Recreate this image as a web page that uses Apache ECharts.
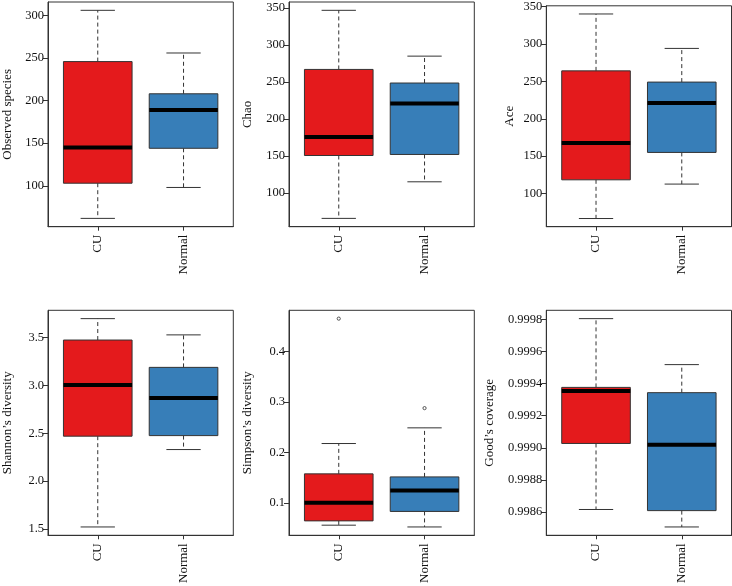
<!DOCTYPE html>
<html>
<head>
<meta charset="utf-8">
<script src="https://cdn.jsdelivr.net/npm/echarts@6/dist/echarts.min.js"></script>
<style>
  html, body { margin: 0; padding: 0; background: #fff; }
  #chart { width: 732px; height: 586px; }
</style>
</head>
<body>
<div id="chart"></div>
<script>
// ---- Data ----
// Each stat row: [min (lower whisker), Q1, median, Q3, max (upper whisker)]
const groups = ['CU', 'Normal'];

const observedStats = [[61.7, 103, 145, 245.8, 306], [98, 144, 189, 208, 255.9]];
const observedTicks = [100, 150, 200, 250, 300];

const chaoStats = [[65.4, 150.5, 175.7, 267, 347], [114.9, 151.9, 221, 248.6, 285]];
const chaoTicks = [100, 150, 200, 250, 300, 350];

const aceStats = [[66.7, 118.4, 167.5, 264, 340], [112.7, 155, 221, 249, 294]];
const aceTicks = [100, 150, 200, 250, 300, 350];

const shannonStats = [[1.52, 2.47, 3.006, 3.476, 3.70], [2.33, 2.476, 2.87, 3.19, 3.53]];
const shannonTicks = [1.5, 2.0, 2.5, 3.0, 3.5];

const simpsonStats = [[0.0565, 0.065, 0.101, 0.158, 0.218], [0.053, 0.0837, 0.125, 0.152, 0.249]];
const simpsonOutliers = [[1, 0.465], [2, 0.288]];
const simpsonTicks = [0.1, 0.2, 0.3, 0.4];

const goodsStats = [[0.998615, 0.999027, 0.999354, 0.999377, 0.999806], [0.998506, 0.998608, 0.999019, 0.999344, 0.999519]];
const goodsTicks = [0.9986, 0.9988, 0.9990, 0.9992, 0.9994, 0.9996, 0.9998];

// ---- Panels ----
const panels = [
  { name: 'Observed species', stats: observedStats, outliers: [], ticks: observedTicks, digits: 0 },
  { name: 'Chao', stats: chaoStats, outliers: [], ticks: chaoTicks, digits: 0 },
  { name: 'Ace', stats: aceStats, outliers: [], ticks: aceTicks, digits: 0 },
  { name: 'Shannon\u2019s diversity', stats: shannonStats, outliers: [], ticks: shannonTicks, digits: 1 },
  { name: 'Simpson\u2019s diversity', stats: simpsonStats, outliers: simpsonOutliers, ticks: simpsonTicks, digits: 1 },
  { name: 'Good\u2019s coverage', stats: goodsStats, outliers: [], ticks: goodsTicks, digits: 4 }
];

// ---- Layout & style ----
const layout = [
  { left: 47.7, top: 2, width: 185.6, height: 224.7, nameGap: 34 },
  { left: 289, top: 2, width: 185.3, height: 224.7, nameGap: 35 },
  { left: 546.3, top: 2, width: 185.2, height: 224.7, nameGap: 30 },
  { left: 47.7, top: 310.3, width: 185.6, height: 225, nameGap: 34 },
  { left: 289, top: 310.3, width: 185.3, height: 225, nameGap: 35 },
  { left: 546.3, top: 310.3, width: 185.2, height: 225, nameGap: 50 }
];
const fillColors = ['#E41A1C', '#377EB8'];
const FONT = '"Liberation Serif", "DejaVu Serif", serif';
const INK = '#111';
const BOX_HALF = 0.4, CAP_HALF = 0.2;

function renderBox(params, api) {
  const x = api.value(0);
  const lo = api.value(1), q1 = api.value(2), med = api.value(3), q3 = api.value(4), hi = api.value(5);
  const c = (a, b) => api.coord([a, b]);
  const tl = c(x - BOX_HALF, q3), br = c(x + BOX_HALF, q1);
  const dash = { stroke: '#333', lineWidth: 1, lineDash: [4, 3] };
  const solid = { stroke: '#333', lineWidth: 1 };
  const line = (p1, p2, style) => ({ type: 'line', shape: { x1: p1[0], y1: p1[1], x2: p2[0], y2: p2[1] }, style: style });
  return {
    type: 'group',
    children: [
      line(c(x, q3), c(x, hi), dash),
      line(c(x, q1), c(x, lo), dash),
      line(c(x - CAP_HALF, hi), c(x + CAP_HALF, hi), solid),
      line(c(x - CAP_HALF, lo), c(x + CAP_HALF, lo), solid),
      { type: 'rect', shape: { x: tl[0], y: tl[1], width: br[0] - tl[0], height: br[1] - tl[1] },
        style: { fill: fillColors[params.dataIndex], stroke: '#333', lineWidth: 1 } },
      line(c(x - BOX_HALF, med), c(x + BOX_HALF, med), { stroke: '#000', lineWidth: 4 })
    ]
  };
}

function renderOutlier(params, api) {
  const p = api.coord([api.value(0), api.value(1)]);
  return { type: 'circle', shape: { cx: p[0], cy: p[1], r: 1.6 },
    style: { fill: '#fff', stroke: '#444', lineWidth: 0.9 } };
}

const grid = [], xAxis = [], yAxis = [], series = [];
panels.forEach((p, i) => {
  const L = layout[i];
  let all = [];
  p.stats.forEach(s => { all = all.concat(s); });
  p.outliers.forEach(o => all.push(o[1]));
  const dmin = Math.min(...all), dmax = Math.max(...all);
  const pad = (dmax - dmin) * 0.04;

  grid.push({ left: L.left, top: L.top, width: L.width, height: L.height,
    show: true, borderColor: '#333', borderWidth: 1, backgroundColor: 'transparent' });

  xAxis.push({
    type: 'value', gridIndex: i, min: 0.42, max: 2.58,
    splitLine: { show: false },
    axisLine: { show: true, onZero: false, lineStyle: { color: '#333' } },
    axisTick: { show: true, customValues: [1, 2], length: 4, lineStyle: { color: '#333' } },
    axisLabel: { show: true, customValues: [1, 2], rotate: 90, margin: 8,
      fontFamily: FONT, fontSize: 13, color: INK,
      formatter: v => groups[Math.round(v) - 1] || '' }
  });

  yAxis.push({
    type: 'value', gridIndex: i, min: dmin - pad, max: dmax + pad,
    name: p.name, nameLocation: 'middle', nameGap: L.nameGap, nameRotate: 90,
    nameTextStyle: { fontFamily: FONT, fontSize: 13, color: INK },
    splitLine: { show: false },
    axisLine: { show: true, onZero: false, lineStyle: { color: '#333' } },
    axisTick: { show: true, customValues: p.ticks, length: 5, lineStyle: { color: '#333' } },
    axisLabel: { show: true, customValues: p.ticks, margin: 4,
      fontFamily: FONT, fontSize: 12.5, color: INK,
      formatter: v => Number(v).toFixed(p.digits) }
  });

  series.push({
    type: 'custom', xAxisIndex: i, yAxisIndex: i,
    renderItem: renderBox,
    encode: { x: 0, y: [1, 2, 3, 4, 5] },
    data: p.stats.map((s, k) => [k + 1].concat(s)),
    silent: true, animation: false
  });
  if (p.outliers.length) {
    series.push({
      type: 'custom', xAxisIndex: i, yAxisIndex: i,
      renderItem: renderOutlier,
      encode: { x: 0, y: 1 },
      data: p.outliers,
      silent: true, animation: false, z: 5
    });
  }
});

const chart = echarts.init(document.getElementById('chart'), null, { renderer: 'canvas' });
chart.setOption({ animation: false, backgroundColor: '#fff', grid, xAxis, yAxis, series });
</script>
</body>
</html>
